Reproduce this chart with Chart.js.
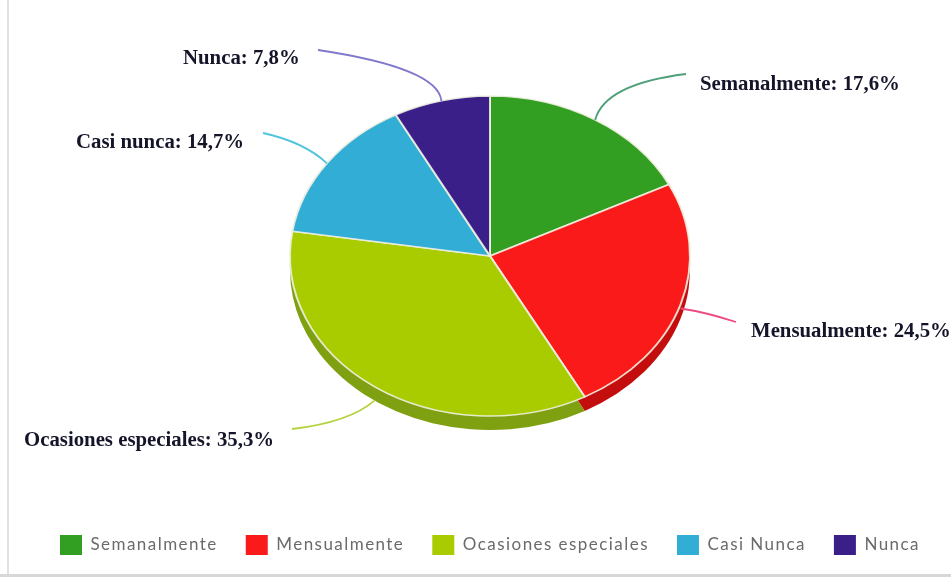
<!DOCTYPE html>
<html><head><meta charset="utf-8">
<style>html,body{margin:0;padding:0;background:#fff;overflow:hidden}canvas{display:block;filter:blur(.6px)}</style>
<script src="https://cdn.jsdelivr.net/npm/chart.js@4"></script>
</head><body><canvas id="c" width="951" height="577"></canvas>
<script>
const categories = ['Semanalmente','Mensualmente','Ocasiones especiales','Casi Nunca','Nunca'];
const calloutNames = ['Semanalmente','Mensualmente','Ocasiones especiales','Casi nunca','Nunca'];
const values = [17.6,24.5,35.3,14.7,7.8];
const valueTexts = ['17,6%','24,5%','35,3%','14,7%','7,8%'];
const baseColors = ['#329e22','#fa1a1a','#a8cc00','#31add6','#3a1f88'];
const edgeColors = ['#2a8418','#e81010','#8aac00','#2b90b8','#33207a'];
const sideColors = ['#267a18','#c40d0d','#7fa010','#2480a0','#2a1866'];
const lineColors = ['#4f9f78','#ee4a80','#b4d23c','#4fc4dc','#8078cc'];
const tilt = 0.8, depth = 14;
// leader lines: [bend control x,y, end x,y], text: [x, centre y]
const leaders = [[[605,84],[686,74]],[[705,312],[736,322]],[[350,422],[292,429]],[[304,142],[263,133]],[[438,68],[318,50]]];
const textPos = [[700,85],[751,332],[24,441],[76,143],[183,59]];
const legendSpacing = '1.45px';
const ellipsePlugin = {
  id:'ellipse',
  beforeUpdate(ch){ ch.ctx.letterSpacing=legendSpacing; },
  beforeDraw(ch){
    const c=ch.ctx;c.letterSpacing=legendSpacing;c.save();c.fillStyle='#fff';c.fillRect(0,0,951,577);
    c.fillStyle='#e2e2e2';c.fillRect(7,0,2,574);
    c.fillStyle='#d8d8d8';c.fillRect(0,574,951,3);
    c.restore();
  },
  beforeDatasetsDraw(ch){
    const c=ch.ctx, arcs=ch.getDatasetMeta(0).data, a0=arcs[0];
    const apply=(dy)=>{c.translate(a0.x,a0.y+dy);c.scale(1,tilt);c.translate(-a0.x,-a0.y);};
    c.save();apply(depth);
    arcs.forEach((a,i)=>{c.beginPath();c.moveTo(a.x,a.y);c.arc(a.x,a.y,a.outerRadius,a.startAngle,a.endAngle);c.closePath();c.fillStyle=sideColors[i];c.fill();});
    c.restore();
    c.save();apply(0);
  },
  afterDatasetsDraw(ch){
    const c=ch.ctx, arcs=ch.getDatasetMeta(0).data;
    c.restore();
    arcs.forEach((a,i)=>{
      const m=(a.startAngle+a.endAngle)/2;
      const sx=a.x+a.outerRadius*Math.cos(m), sy=a.y+a.outerRadius*tilt*Math.sin(m)+((Math.sin(m)>0.2)?depth*(i===2?1:0.3):0);
      c.beginPath();c.moveTo(sx,sy);
      c.quadraticCurveTo(leaders[i][0][0],leaders[i][0][1],leaders[i][1][0],leaders[i][1][1]);
      c.strokeStyle=lineColors[i];c.lineWidth=1.8;c.stroke();
      c.save();
      c.letterSpacing='0px';
      c.beginPath();c.rect(25,0,926,577);c.clip();
      c.font='bold 20.8px "Liberation Serif"';c.fillStyle='#15152a';c.textBaseline='middle';c.textAlign='left';
      c.fillText(calloutNames[i]+': '+valueTexts[i],textPos[i][0],textPos[i][1]);
      c.restore();
    });
  }
};
new Chart(document.getElementById('c'),{
  type:'pie',
  data:{labels:categories,datasets:[{data:values,radius:200,
    backgroundColor(ctx){
      const ch=ctx.chart,a=ch.getDatasetMeta(0).data[ctx.dataIndex];
      if(!a||!a.outerRadius)return baseColors[ctx.dataIndex];
      const g=ch.ctx.createRadialGradient(a.x,a.y,0,a.x,a.y,a.outerRadius);
      g.addColorStop(0,baseColors[ctx.dataIndex]);g.addColorStop(.6,baseColors[ctx.dataIndex]);g.addColorStop(1,edgeColors[ctx.dataIndex]);
      return g;
    },
    borderColor:'rgba(240,240,225,.9)',borderWidth:2}]},
  options:{responsive:false,animation:false,
    layout:{padding:{left:29,right:0,top:5,bottom:12}},
    plugins:{tooltip:{enabled:false},
      legend:{position:'bottom',
        labels:{boxWidth:22,boxHeight:20,padding:28,color:'#6a6a6a',font:{family:'Lato',size:17},
          generateLabels(ch){return categories.map((t,i)=>({text:t,fillStyle:baseColors[i],strokeStyle:baseColors[i],lineWidth:0,index:i,fontColor:'#6a6a6a'}));}}}}},
  plugins:[ellipsePlugin]
});
</script></body></html>
